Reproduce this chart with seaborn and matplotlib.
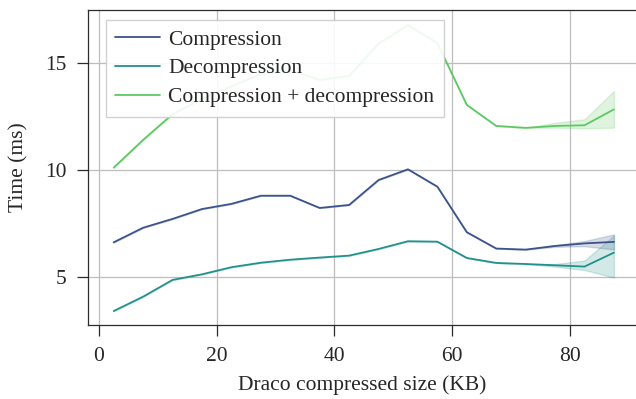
import numpy as np
import pandas as pd
import seaborn as sns
import matplotlib.pyplot as plt

# Draco compressed size bins (KB)
sizes = [2.5, 7.5, 12.5, 17.5, 22.5, 27.5, 32.5, 37.5, 42.5,
         47.5, 52.5, 57.5, 62.5, 67.5, 72.5, 77.5, 82.5, 87.5]

# Median timings per bin (ms)
compression = [6.63, 7.31, 7.72, 8.18, 8.42, 8.80, 8.80, 8.23, 8.37,
               9.53, 10.03, 9.22, 7.10, 6.34, 6.29, 6.46, 6.58, 6.65]
decompression = [3.43, 4.10, 4.88, 5.14, 5.47, 5.68, 5.82, 5.92, 6.01,
                 6.32, 6.68, 6.66, 5.90, 5.67, 5.62, 5.56, 5.50, 6.15]
combined = [10.11, 11.40, 12.60, 13.30, 13.90, 14.46, 14.64, 14.19, 14.38,
            15.88, 16.75, 15.90, 13.03, 12.05, 11.96, 12.05, 12.08, 12.82]

# Spread of the observations in the largest bins (min, max)
tail_sizes = [77.5, 82.5, 87.5]
compression_min = [6.42, 6.45, 6.30]
compression_max = [6.50, 6.69, 7.00]
decompression_min = [5.50, 5.34, 4.99]
decompression_max = [5.62, 5.78, 6.95]
combined_min = [11.97, 11.94, 11.97]
combined_max = [12.20, 12.36, 13.68]

series_names = ["Compression", "Decompression", "Compression + decompression"]

rows = []
for name, mid, lo, hi in [
    (series_names[0], compression, compression_min, compression_max),
    (series_names[1], decompression, decompression_min, decompression_max),
    (series_names[2], combined, combined_min, combined_max),
]:
    for x, m in zip(sizes, mid):
        if x in tail_sizes:
            k = tail_sizes.index(x)
            obs = [lo[k], m, hi[k]]
        else:
            obs = [m, m, m]
        for v in obs:
            rows.append({"size": x, "time": v, "series": name})
df = pd.DataFrame(rows)

sns.set_style("ticks")
plt.rcParams["font.family"] = ["Liberation Serif", "DejaVu Serif"]
plt.rcParams["mathtext.fontset"] = "stix"
fs = 15.5

fig = plt.figure(figsize=(6.36, 3.99), dpi=100)
ax = fig.add_axes([0.1384, 0.1855, 0.8616, 0.7895])

sns.lineplot(data=df, x="size", y="time", hue="series", hue_order=series_names,
             palette="viridis", estimator="median", errorbar=("pi", 100),
             linewidth=1.3, ax=ax)

ax.set_xlim(-1.87, 91.25)
ax.set_ylim(2.78, 17.45)
ax.set_xticks([0, 20, 40, 60, 80])
ax.set_yticks([5, 10, 15])
ax.grid(True, color="#bdbdbd", linewidth=0.9)
ax.set_axisbelow(True)

for side in ["left", "bottom", "top"]:
    ax.spines[side].set_color("#2b2b2b")
    ax.spines[side].set_linewidth(0.9)
ax.spines["right"].set_visible(False)
ax.tick_params(axis="both", direction="out", length=8, width=0.9,
               color="#2b2b2b", labelsize=fs, pad=7.5)

ax.set_xlabel("Draco compressed size (KB)", fontsize=fs, labelpad=7)
ax.set_ylabel("Time (ms)", fontsize=fs, labelpad=12)

handles, labels = ax.get_legend_handles_labels()
ax.legend(handles, labels, loc="upper left", bbox_to_anchor=(0.032, 0.968),
          borderaxespad=0, fontsize=fs, frameon=True, fancybox=False,
          framealpha=0.9, edgecolor="#cccccc", handlelength=2.1,
          handletextpad=0.35, labelspacing=0.4, borderpad=0.45)

fig.savefig("out.png", dpi=100)
